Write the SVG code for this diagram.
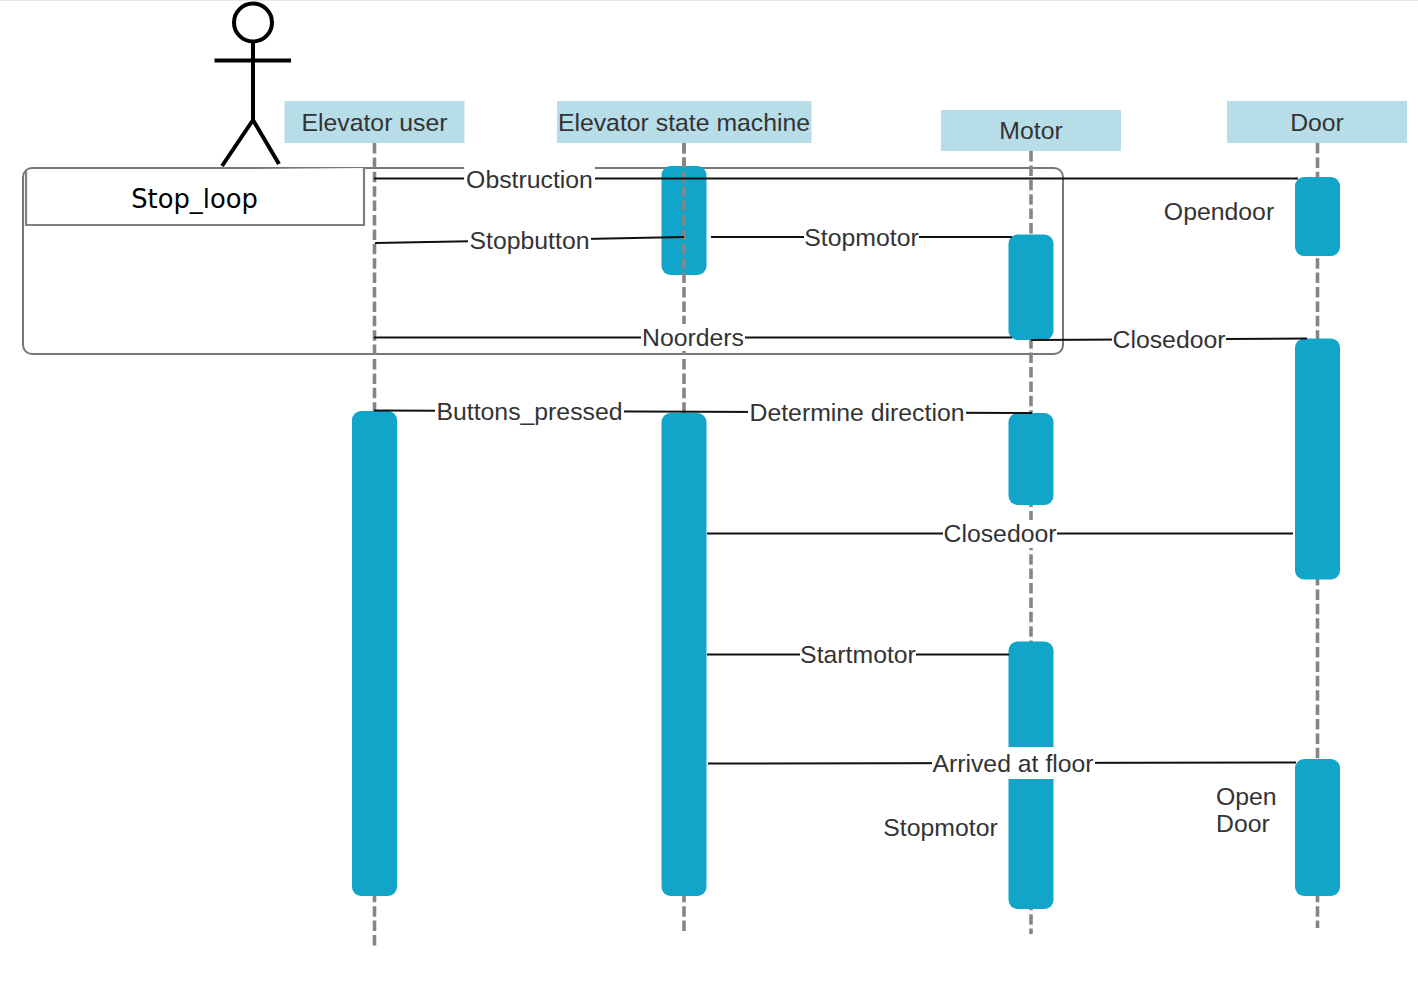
<svg xmlns="http://www.w3.org/2000/svg" width="1418" height="993" viewBox="0 0 1418 993">
<style>
text{font-family:"Liberation Sans",Arial,sans-serif;font-size:24.8px;fill:#333;text-anchor:middle}
.head{fill:#b7dde9}
.bar{fill:#12a5ca}
.life{stroke:#858585;stroke-width:3.6;stroke-dasharray:10.500 3.900;fill:none}
.msg{stroke:#111;stroke-width:2;fill:none}
.stick{stroke:#000;stroke-width:4;fill:none}
.frame{stroke:#777;stroke-width:2;fill:none}
.gap{fill:#fff}
</style>
<rect width="1418" height="993" fill="#fff"/>
<rect width="1418" height="1" fill="#e8e8e8"/>
<g id="actor" class="stick">
<circle cx="253" cy="22.500" r="19"/>
<path d="M253 42V120M214.500 60.500H291M253 120L222 166M253 120L279 164"/>
</g>
<g id="frame">
<rect class="frame" x="23" y="168" width="1040" height="186" rx="9"/>
<path d="M26 171V225H364V168" fill="#fff" stroke="#808080" stroke-width="2.200"/>
<text x="194.500" y="208" style="font-family:'DejaVu Sans',sans-serif;font-size:25.800px;fill:#000">Stop_loop</text>
</g>
<g id="lifelines">
<path class="life" d="M374.500 143V946"/>
<path class="life" d="M684 143V932"/>
<path class="life" d="M1031 151V934"/>
<path class="life" d="M1317.500 143V928"/>
</g>
<g id="node-user"><rect class="head" x="284.500" y="101" width="180" height="42"/><text x="374.500" y="131">Elevator user</text></g>
<g id="node-esm"><rect class="head" x="557" y="101" width="254.500" height="42"/><text x="684" y="131">Elevator state machine</text></g>
<g id="node-motor"><rect class="head" x="941" y="110" width="180" height="41"/><text x="1031" y="139">Motor</text></g>
<g id="node-door"><rect class="head" x="1227" y="101" width="180" height="42"/><text x="1317" y="131">Door</text></g>
<g id="activations">
<rect class="bar" x="661.500" y="166" width="45" height="109" rx="9"/>
<rect class="bar" x="1295" y="177" width="45" height="79" rx="9"/>
<rect class="bar" x="1008.500" y="234.500" width="45" height="105.500" rx="9"/>
<rect class="bar" x="1295" y="338.500" width="45" height="241" rx="9"/>
<rect class="bar" x="352" y="411" width="45" height="485" rx="9"/>
<rect class="bar" x="661.500" y="413" width="45" height="483" rx="9"/>
<rect class="bar" x="1008.500" y="413" width="45" height="92" rx="9"/>
<rect class="bar" x="1008.500" y="641.500" width="45" height="267.500" rx="9"/>
<rect class="bar" x="1295" y="759" width="45" height="137" rx="9"/>
</g>
<path d="M684 143V275" class="life"/>
<g id="connectors">
<path class="msg" d="M374 178.500H1298"/>
<path class="msg" d="M375 243L684 237"/>
<path class="msg" d="M711 237H1012"/>
<path class="msg" d="M374 337.500H1012"/>
<path class="msg" d="M1031 340L1307 338.500"/>
<path class="msg" d="M374 410.500L1032 413"/>
<path class="msg" d="M707 533.500H1293"/>
<path class="msg" d="M707 654.500H1009"/>
<path class="msg" d="M708 763.500L1296 762.500"/>
</g>
<g id="labels">
<rect class="gap" x="464" y="165" width="131" height="28"/><text x="529.500" y="188">Obstruction</text>
<rect class="gap" x="468" y="228" width="123" height="26"/><text x="529.500" y="249">Stopbutton</text>
<rect class="gap" x="804" y="224" width="115" height="26"/><text x="861.500" y="246">Stopmotor</text>
<rect class="gap" x="641" y="324" width="104" height="27"/><text x="693" y="346">Noorders</text>
<rect class="gap" x="1112" y="326" width="114" height="27"/><text x="1169" y="348">Closedoor</text>
<rect class="gap" x="435" y="398" width="189" height="27"/><text x="529.500" y="420">Buttons_pressed</text>
<rect class="gap" x="748" y="399" width="218" height="27"/><text x="857" y="421">Determine direction</text>
<rect class="gap" x="943" y="520" width="114" height="28"/><text x="1000" y="542">Closedoor</text>
<rect class="gap" x="800" y="641" width="116" height="27"/><text x="858" y="663">Startmotor</text>
<rect class="gap" x="932" y="747" width="163" height="32"/><text x="1013" y="772">Arrived at floor</text>
<text x="1219" y="220">Opendoor</text>
<text x="940.500" y="836">Stopmotor</text>
<text x="1216" y="805" style="text-anchor:start">Open</text>
<text x="1216" y="832" style="text-anchor:start">Door</text>
</g>
</svg>
